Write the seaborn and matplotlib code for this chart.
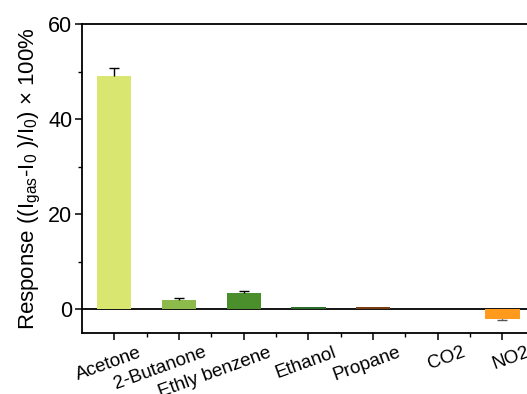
import matplotlib
matplotlib.use("Agg")
import matplotlib.pyplot as plt
import matplotlib.transforms as mtransforms
from matplotlib.ticker import MultipleLocator, FixedLocator
import numpy as np
import pandas as pd
import seaborn as sns

gases = ["Acetone", "2-Butanone", "Ethly benzene", "Ethanol", "Propane", "CO2", "NO2"]
response = [49.1, 1.9, 3.4, 0.45, 0.45, 0.0, -2.1]
err_up = [1.7, 0.5, 0.4, 0.0, 0.0, 0.0, 0.0]
err_down = [0.0, 0.0, 0.0, 0.0, 0.0, 0.0, 0.15]
colors = ["#d9e66f", "#8cbb4b", "#4a8f2c", "#2c6a2c", "#7a3d12", "#7a7a7a", "#ff9a1c"]

df = pd.DataFrame({"gas": gases, "response": response})

sns.set_theme(style="ticks")
plt.rcParams["font.family"] = ["Liberation Sans", "DejaVu Sans"]
plt.rcParams["mathtext.fontset"] = "custom"
plt.rcParams["mathtext.rm"] = "Liberation Sans"
plt.rcParams["mathtext.it"] = "Liberation Sans:italic"
plt.rcParams["text.color"] = "black"
plt.rcParams["axes.labelcolor"] = "black"
plt.rcParams["xtick.color"] = "black"
plt.rcParams["ytick.color"] = "black"

fig = plt.figure(figsize=(5.27, 3.94), dpi=100)
ax = fig.add_axes([0.1556, 0.155, 0.982, 0.784])

sns.barplot(data=df, x="gas", y="response", hue="gas", palette=colors,
            order=gases, hue_order=gases, width=0.53, legend=False, ax=ax,
            saturation=1, edgecolor="none", zorder=4)

# one-sided error bars: cap only on the outer end
x = np.arange(len(gases))
resp = np.array(response)
up = np.array(err_up)
down = np.array(err_down)
ax.vlines(x[up > 0], resp[up > 0], resp[up > 0] + up[up > 0], color="black", lw=1.0, zorder=4)
ax.plot(x[up > 0], resp[up > 0] + up[up > 0], ls="none", marker="_", ms=7, mew=1.0,
        color="black", zorder=4)
ax.vlines(x[down > 0], resp[down > 0] - down[down > 0], resp[down > 0], color="black", lw=1.0, zorder=4)
ax.plot(x[down > 0], resp[down > 0] - down[down > 0], ls="none", marker="_", ms=7, mew=1.0,
        color="#555555", zorder=4)

ax.axhline(0, color="black", lw=1.3, zorder=3)
ax.set_xlim(-0.5, 7.5)
ax.set_ylim(-5, 60)
ax.yaxis.set_major_locator(MultipleLocator(20))
ax.yaxis.set_minor_locator(MultipleLocator(10))
ax.xaxis.set_minor_locator(FixedLocator([i + 0.5 for i in range(len(gases))]))

for side in ["left", "bottom", "top", "right"]:
    ax.spines[side].set_linewidth(1.3)
    ax.spines[side].set_color("black")

ax.tick_params(axis="both", which="major", direction="out", length=5, width=1.1,
               color="black", labelsize=15.5)
ax.tick_params(axis="both", which="minor", direction="out", length=3, width=1.0,
               color="black")
ax.tick_params(axis="y", pad=2)
ax.tick_params(axis="x", labelsize=13.5, pad=3)

ax.set_xticks(range(len(gases)))
ax.set_xticklabels(gases, rotation=20, ha="right", va="top", rotation_mode="anchor")
shift = mtransforms.ScaledTranslation(24 / 100, 0, fig.dpi_scale_trans)
for lab in ax.get_xticklabels():
    lab.set_transform(lab.get_transform() + shift)

ax.set_xlabel("")
ax.set_ylabel(r"Response ((I$_{\rm gas}$-I$_{\rm 0}$ )/I$_{\rm 0}$) × 100%",
              fontsize=16, labelpad=4)

fig.savefig("out.png", dpi=100)
